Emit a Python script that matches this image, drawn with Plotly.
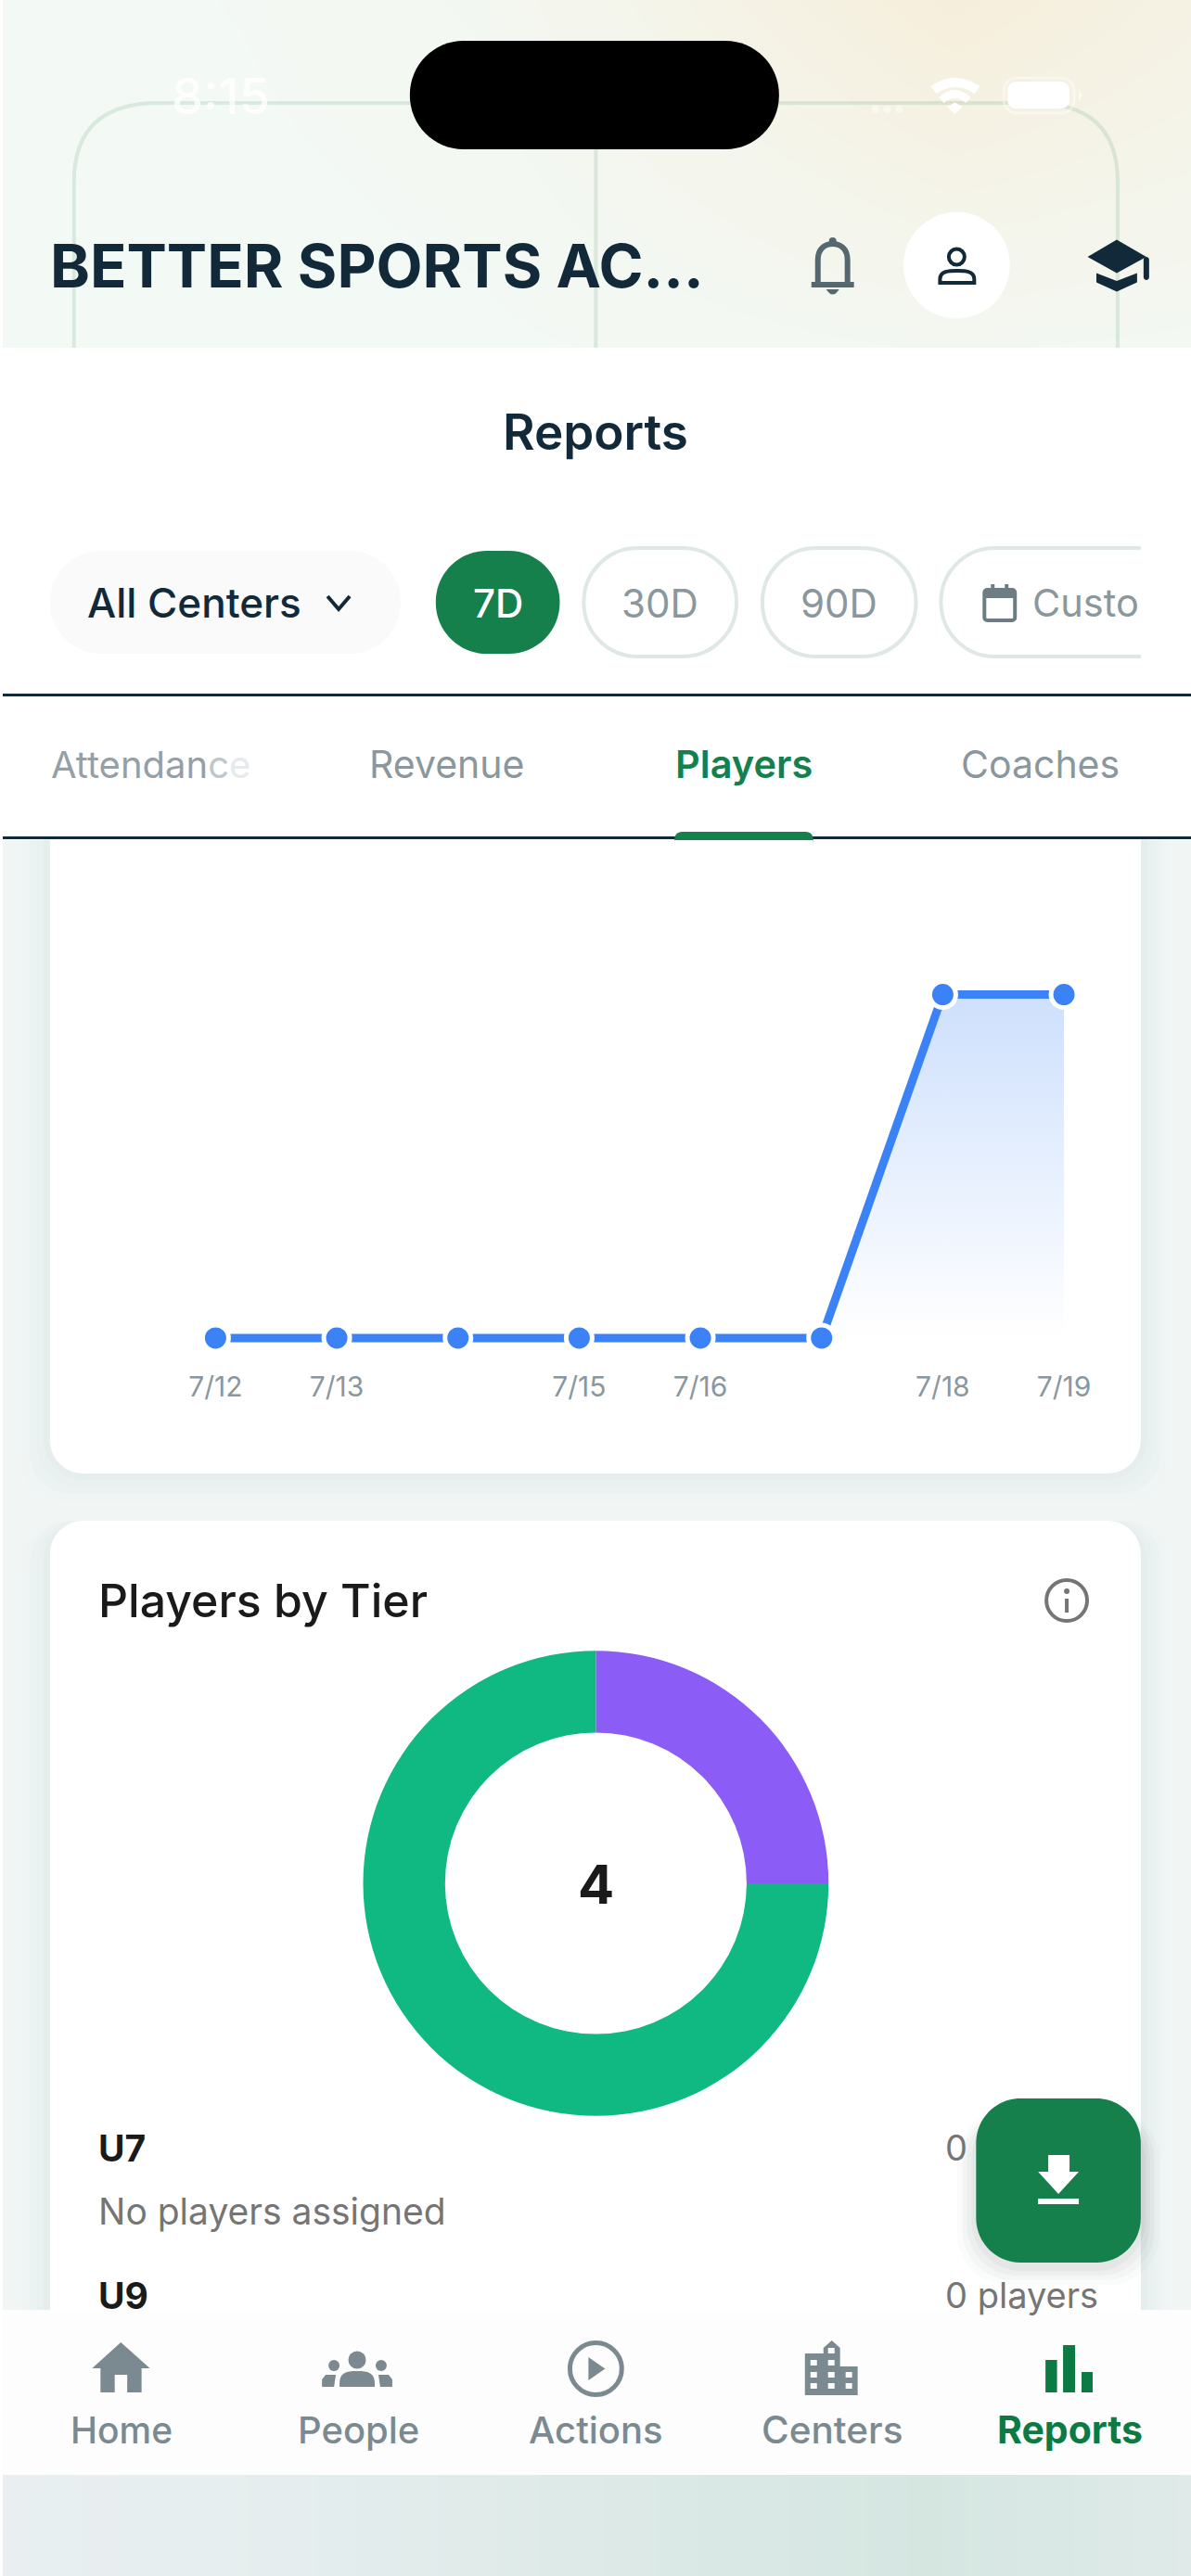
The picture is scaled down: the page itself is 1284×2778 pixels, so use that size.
import plotly.graph_objects as go

# values
days = ["7/12", "7/13", "7/14", "7/15", "7/16", "7/17", "7/18", "7/19"]
players = [0, 0, 0, 0, 0, 0, 1, 1]
shown_days = ["7/12", "7/13", "7/15", "7/16", "7/18", "7/19"]

tiers = ["Tier A", "Tier B"]
tier_players = [1, 3]
tier_total = "4"

tabs = ["Revenue", "Players", "Coaches"]
nav_labels = ["Home", "People", "Actions", "Centers", "Reports"]

W, H = 1284, 2778
FONT = "Inter"
INK = "#12293a"
GREEN = "#16804c"
GREY = "#8a979d"
NAV = "#7b8a91"
NAV_ON = "#0c7a43"
K = 0.5523
XFIX = 0.99745


def X(v):
    return 1 if v >= W else v * XFIX / W


def Y(v):
    return 1 - v / H


def P(x, y):
    return f"{X(x)},{Y(y)}"


def rrect(x0, y0, x1, y1, r):
    c = r * (1 - K)
    return (f"M{P(x0+r, y0)} L{P(x1-r, y0)} C{P(x1-c, y0)} {P(x1, y0+c)} {P(x1, y0+r)} "
            f"L{P(x1, y1-r)} C{P(x1, y1-c)} {P(x1-c, y1)} {P(x1-r, y1)} "
            f"L{P(x0+r, y1)} C{P(x0+c, y1)} {P(x0, y1-c)} {P(x0, y1-r)} "
            f"L{P(x0, y0+r)} C{P(x0, y0+c)} {P(x0+c, y0)} {P(x0+r, y0)} Z")


shapes = []
notes = []


def box(x0, y0, x1, y1, fill, layer="below"):
    shapes.append(dict(type="rect", xref="paper", yref="paper", x0=X(x0), x1=X(x1), y0=Y(y0), y1=Y(y1),
                       fillcolor=fill, line_width=0, layer=layer))


def draw(path, fill="rgba(0,0,0,0)", line=None, lw=0, layer="above"):
    shapes.append(dict(type="path", xref="paper", yref="paper", path=path, fillcolor=fill,
                       line=dict(color=line or "rgba(0,0,0,0)", width=lw), layer=layer))


def round_box(x0, y0, x1, y1, r, fill="rgba(0,0,0,0)", line=None, lw=0, layer="below"):
    draw(rrect(x0, y0, x1, y1, r), fill, line, lw, layer)


def poly(points, fill="rgba(0,0,0,0)", line=None, lw=0, close=True, layer="above"):
    d = "M" + " L".join(P(a, b) for a, b in points) + (" Z" if close else "")
    draw(d, fill, line, lw, layer)


def ring(cx, cy, r, fill="rgba(0,0,0,0)", line=None, lw=0, layer="above"):
    shapes.append(dict(type="circle", xref="paper", yref="paper", x0=X(cx-r), x1=X(cx+r), y0=Y(cy-r), y1=Y(cy+r),
                       fillcolor=fill, line=dict(color=line or "rgba(0,0,0,0)", width=lw), layer=layer))


def dome(x0, x1, top, bottom, fill="rgba(0,0,0,0)", line=None, lw=0):
    mid = (x0 + x1) / 2
    draw(f"M{P(x0, bottom)} L{P(x0, bottom-4)} C{P(x0, top)} {P(mid-8, top)} {P(mid, top)} "
         f"C{P(mid+8, top)} {P(x1, top)} {P(x1, bottom-4)} L{P(x1, bottom)} Z", fill, line, lw)


def label(x, y, text, size, color, anchor="center", weight=400):
    notes.append(dict(xref="paper", yref="paper", x=X(x), y=Y(y), text=text, showarrow=False,
                      xanchor=anchor, yanchor="middle", align=anchor, borderpad=0, borderwidth=0,
                      font=dict(family=FONT, size=size, color=color, weight=weight)))


# page regions
box(0, 906, W, 2492, "#f1f6f5")
for top, bottom in [(860, 1589), (1640, 2560)]:
    for grow, alpha in [(30, 0.008), (22, 0.010), (14, 0.012), (7, 0.014)]:
        round_box(54 - grow, top, 1233 + grow, bottom + grow, 44, "rgba(40,60,70,%s)" % alpha)
    round_box(54, top, 1233, bottom, 36, "#ffffff")
box(0, 375, W, 748, "#ffffff")
box(0, 750, W, 903, "#ffffff")
box(0, 748, W, 751, INK)
box(0, 902, W, 905, INK)
box(0, 2491, W, 2669, "#fdfdfd", layer="above")

# header decoration
grid_line = "rgba(110,170,130,0.2)"
draw(f"M{P(80, 375)} L{P(80, 196)} Q{P(80, 111)} {P(172, 111)} L{P(1116, 111)} Q{P(1208, 111)} {P(1208, 196)} L{P(1208, 375)}",
     line=grid_line, lw=4)
poly([(644, 111), (644, 375)], line=grid_line, lw=4, close=False)
round_box(443, 44, 842, 161, 58, "#000000", layer="above")
label(239, 104, "8:15", 54, "rgba(255,255,255,0.8)", weight=500)
for dot in (946, 959, 972):
    ring(dot, 118, 4, "rgba(255,255,255,0.45)")
draw(f"M{P(1006, 93)} Q{P(1032, 75)} {P(1059, 93)} L{P(1053, 101)} Q{P(1032, 87)} {P(1012, 101)} Z", "#ffffff")
draw(f"M{P(1015, 105)} Q{P(1032, 89)} {P(1049, 105)} L{P(1044, 111)} Q{P(1032, 101)} {P(1020, 111)} Z", "#ffffff")
poly([(1024, 115), (1032, 110.5), (1040, 115), (1032, 123.5)], "#ffffff")
round_box(1085, 84, 1161, 122, 14, line="rgba(255,255,255,0.4)", lw=3, layer="above")
round_box(1089, 88, 1156, 117, 9, "#ffffff", layer="above")
poly([(1166, 97), (1170, 103), (1166, 109)], "rgba(255,255,255,0.6)")

label(54, 287, "BETTER SPORTS AC...", 65, INK, "left", 700)

# bell, avatar and school icons
BELL = "#56686f"
draw(f"M{P(884, 306)} L{P(884, 280)} C{P(884, 268)} {P(892, 263)} {P(900, 263)} C{P(908, 263)} {P(916, 268)} {P(916, 280)} L{P(916, 306)}",
     line=BELL, lw=6)
poly([(877, 307), (923, 307)], line=BELL, lw=6, close=False)
ring(900, 260, 4, BELL)
draw(f"M{P(893, 312)} L{P(907, 312)} Q{P(900, 323)} {P(893, 312)} Z", BELL)
ring(1034, 286, 57.5, "#ffffff")
ring(1034, 277, 8.5, line=INK, lw=4)
dome(1016, 1053, 292, 305, line=INK, lw=4)
poly([(1207, 258.5), (1175.5, 277), (1207, 294.5), (1239, 277)], INK)
poly([(1185, 294.5), (1207, 303), (1229, 294.5), (1229, 304.5), (1207, 314.5), (1185, 304.5)], INK)
round_box(1236, 277, 1242, 302, 3, INK, layer="above")

label(644, 466, "Reports", 53, INK, weight=600)

# filters
round_box(54, 594, 433, 705, 55, "#fafafa")
label(94, 650, "All Centers", 44, INK, "left", 500)
poly([(354, 643), (366, 657), (378, 643)], line=INK, lw=4, close=False)
round_box(471, 594, 605, 705, 55, GREEN)
label(538, 650, "7D", 42, "#ffffff", weight=500)
round_box(631, 591, 796, 708, 58, "#ffffff", "#dfe8e4", 4)
label(713, 650, "30D", 42, GREY)
round_box(824, 591, 990, 708, 58, "#ffffff", "#dfe8e4", 4)
label(907, 650, "90D", 42, GREY)
r = 58
c = r * (1 - K)
draw(f"M{P(1233, 591)} L{P(1017+r, 591)} C{P(1017+c, 591)} {P(1017, 591+c)} {P(1017, 591+r)} "
     f"C{P(1017, 708-c)} {P(1017+c, 708)} {P(1017+r, 708)} L{P(1233, 708)}", line="#dfe8e4", lw=4, layer="below")
round_box(1064, 636, 1097, 669, 3, line="#6e7d84", lw=4, layer="above")
box(1064, 636, 1097, 645, "#6e7d84", layer="above")
box(1071, 630, 1075, 637, "#6e7d84", layer="above")
box(1086, 630, 1090, 637, "#6e7d84", layer="above")
label(1116, 650, "Custo", 41.5, GREY, "left")

# tabs
label(55, 824, "Attendan<span style='color:#bfc7ca'>c</span><span style='color:#e6eaeb'>e</span>", 40, "#94a0a5", "left")
label(483, 824, tabs[0], 41, GREY)
label(804, 824, tabs[1], 41.5, GREEN, weight=600)
label(1124, 824, tabs[2], 41, GREY)
round_box(729, 897, 879, 915, 8, GREEN, layer="above")
box(729, 906, 879, 916, "#ffffff", layer="above")

# second card content
label(106, 1726, "Players by Tier", 50, "#1a1a1a", "left", 500)
ring(1153, 1726, 22, line="#757575", lw=4)
box(1151, 1724, 1155, 1739, "#757575", layer="above")
ring(1153, 1716, 3, "#757575")
label(644, 2032, tier_total, 58, "#1a1a1a", weight=700)
label(106, 2316, "U7", 39, "#1a1a1a", "left", 700)
label(106, 2384, "No players assigned", 39, "#757575", "left")
label(1022, 2316, "0", 38, "#757575", "left")
label(106, 2475, "U9", 39, "#1a1a1a", "left", 700)
label(1022, 2475, "0 players", 38, "#757575", "left")

# download button
for grow, alpha in [(20, 0.02), (15, 0.025), (10, 0.03), (5, 0.04)]:
    round_box(1055 - grow, 2263 + 12, 1233 + grow, 2440 + grow + 4, 54, "rgba(20,40,30,%s)" % alpha, layer="above")
round_box(1055, 2263, 1233, 2440, 48, GREEN, layer="above")
poly([(1133, 2324), (1156, 2324), (1156, 2342), (1166, 2342), (1144, 2366), (1122, 2342), (1133, 2342)], "#ffffff")
box(1122, 2371, 1166, 2377, "#ffffff", layer="above")

# bottom nav icons
poly([(130.6, 2526), (99.6, 2554), (108.6, 2554), (108.6, 2580), (124, 2580), (124, 2561), (137.5, 2561), (137.5, 2580), (153, 2580), (153, 2554), (162, 2554)], NAV)
ring(386, 2545, 9.5, NAV)
ring(361, 2551, 6, NAV)
ring(412, 2551, 6, NAV)
dome(367, 405, 2557, 2574, NAV)
poly([(348, 2574), (348, 2566), (352, 2561), (363, 2561), (361, 2574)], NAV)
poly([(424, 2574), (424, 2566), (420, 2561), (409, 2561), (411, 2574)], NAV)
ring(644, 2554.5, 28, line=NAV, lw=5)
poly([(636, 2542), (654, 2554.5), (636, 2567)], NAV)
poly([(870, 2583), (870, 2538), (890, 2538), (890, 2532), (899, 2524), (908, 2532), (908, 2552), (927, 2552), (927, 2583)], NAV)
windows = [(895, 2532), (876, 2545), (895, 2545), (876, 2558), (895, 2558), (914, 2558), (876, 2570), (895, 2570), (914, 2570)]
for wx, wy in windows:
    box(wx, wy, wx + 7, wy + 6, "#fdfdfd", layer="above")
box(1130, 2545, 1142.5, 2580, NAV_ON, layer="above")
box(1149, 2529, 1162, 2580, NAV_ON, layer="above")
box(1169, 2558, 1181, 2580, NAV_ON, layer="above")
for name, cx, size in zip(nav_labels, [131, 387, 644, 900, 1156], [39, 40, 40, 40.5, 41]):
    on = name == "Reports"
    label(cx, 2620, name, size, NAV_ON if on else NAV, weight=700 if on else 500)

# thin pale edge down the left of the capture
box(0, 0, 3, H, "#ffffff", layer="above")

fig = go.Figure()

# background washes
fig.add_trace(go.Heatmap(z=[[0, 0.05, 0.15, 0.55, 1.0, 0.65],
                            [0, 0.02, 0.08, 0.3, 0.55, 0.4],
                            [0, 0, 0.02, 0.08, 0.15, 0.1]],
                         x=[0, 257, 514, 771, 1028, 1284], y=[0, 187, 375], zsmooth="best",
                         colorscale=[[0, "#f3f9f5"], [1, "#f6eedb"]], zmin=0, zmax=1, showscale=False,
                         hoverinfo="skip", xaxis="x2", yaxis="y2"))
fig.add_trace(go.Heatmap(z=[[0, 0.2, 0.6, 1.0, 0.5]], x=[0, 320, 640, 1000, 1284], y=[2669, 2778], zsmooth="best",
                         colorscale=[[0, "#e9eff1"], [1, "#d5e6e1"]], zmin=0, zmax=1, showscale=False,
                         hoverinfo="skip", xaxis="x3", yaxis="y3"))

# line chart
fig.add_trace(go.Scatter(x=days, y=players, mode="lines+markers", cliponaxis=False,
                         line=dict(color="#3b82f6", width=9),
                         marker=dict(size=28, color="#3b82f6", line=dict(color="#ffffff", width=5)),
                         fill="tozeroy",
                         fillgradient=dict(type="vertical", start=1, stop=0,
                                           colorscale=[[0, "rgba(59,130,246,0.25)"], [1, "rgba(59,130,246,0)"]]),
                         hoverinfo="skip", xaxis="x", yaxis="y"))

# donut
fig.add_trace(go.Pie(labels=tiers, values=tier_players, hole=0.648, sort=False, direction="clockwise", rotation=0,
                     marker=dict(colors=["#8b5cf6", "#10b981"], line=dict(width=0)), textinfo="none",
                     showlegend=False, hoverinfo="skip",
                     domain=dict(x=[X(392.5), X(895.5)], y=[Y(2282.5), Y(1779.5)])))

hidden = dict(visible=False, fixedrange=True, automargin=False)
fig.update_layout(
    template="none",
    width=W, height=H, margin=dict(l=0, r=0, t=0, b=0, pad=0), autosize=False,
    paper_bgcolor="#ffffff", plot_bgcolor="rgba(0,0,0,0)", showlegend=False,
    font=dict(family=FONT),
    shapes=shapes, annotations=notes,
    xaxis=dict(domain=[X(233), X(1150)], type="category", categoryorder="array", categoryarray=days,
               range=[0, 7], tickmode="array", tickvals=shown_days, ticktext=shown_days, automargin=False,
               showgrid=False, zeroline=False, showline=False, ticks="", ticklabelstandoff=0,
               tickfont=dict(family=FONT, size=30, color=GREY), fixedrange=True),
    yaxis=dict(domain=[Y(1475), Y(1035.5)], range=[-0.0864, 1.1], visible=False, fixedrange=True, automargin=False),
    xaxis2=dict(domain=[0, 1], range=[0, W], anchor="y2", **hidden),
    yaxis2=dict(domain=[Y(375), 1], range=[375, 0], anchor="x2", **hidden),
    xaxis3=dict(domain=[0, 1], range=[0, W], anchor="y3", **hidden),
    yaxis3=dict(domain=[0, Y(2669)], range=[2778, 2669], anchor="x3", **hidden),
)

fig.write_html("out.html", config={"displayModeBar": False}, post_script="document.body.style.margin='0';")
